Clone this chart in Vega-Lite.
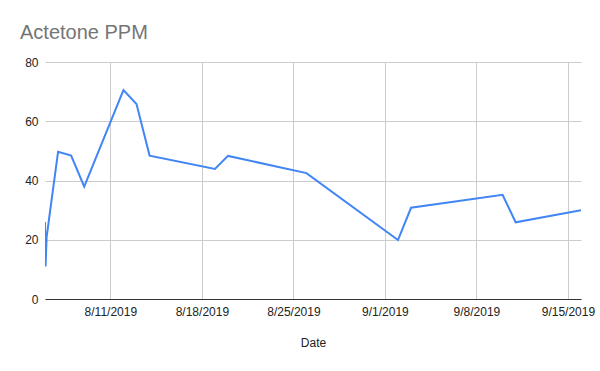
{
  "$schema": "https://vega.github.io/schema/vega-lite/v6.json",
  "autosize": "none",
  "width": 536,
  "height": 237,
  "padding": {"left": 45, "top": 62, "right": 19, "bottom": 72},
  "background": "white",
  "title": {
    "text": "Actetone PPM",
    "anchor": "start",
    "frame": "group",
    "dx": -25,
    "offset": 13,
    "font": "Liberation Sans",
    "fontSize": 20,
    "fontWeight": "normal",
    "color": "#757575"
  },
  "data": {
    "values": [
      {"Date": "2019-08-06T00:00:00", "PPM": 26},
      {"Date": "2019-08-06T01:00:00", "PPM": 11},
      {"Date": "2019-08-06T03:00:00", "PPM": 21},
      {"Date": "2019-08-07T00:00:00", "PPM": 49.7},
      {"Date": "2019-08-08T00:00:00", "PPM": 48.4},
      {"Date": "2019-08-09T00:00:00", "PPM": 37.9},
      {"Date": "2019-08-12T00:00:00", "PPM": 70.5},
      {"Date": "2019-08-13T00:00:00", "PPM": 65.8},
      {"Date": "2019-08-14T00:00:00", "PPM": 48.4},
      {"Date": "2019-08-19T00:00:00", "PPM": 43.9},
      {"Date": "2019-08-20T00:00:00", "PPM": 48.3},
      {"Date": "2019-08-26T00:00:00", "PPM": 42.5},
      {"Date": "2019-09-02T00:00:00", "PPM": 19.9},
      {"Date": "2019-09-03T00:00:00", "PPM": 30.8},
      {"Date": "2019-09-10T00:00:00", "PPM": 35.2},
      {"Date": "2019-09-11T00:00:00", "PPM": 25.9},
      {"Date": "2019-09-16T00:00:00", "PPM": 30.0}
    ]
  },
  "mark": {"type": "line", "color": "#4285F4", "strokeWidth": 2, "clip": true},
  "encoding": {
    "x": {
      "field": "Date",
      "type": "temporal",
      "title": "Date",
      "scale": {
        "domain": [
          {"year": 2019, "month": 8, "date": 6},
          {"year": 2019, "month": 9, "date": 16}
        ],
        "nice": false
      },
      "axis": {
        "format": "%-m/%-d/%Y",
        "tickCount": {"interval": "week", "step": 1},
        "grid": true,
        "gridColor": "#cccccc",
        "ticks": false,
        "domain": true,
        "domainColor": "#333333",
        "domainWidth": 1,
        "labelFont": "Liberation Sans",
        "labelFontSize": 12,
        "labelColor": "#222222",
        "labelPadding": 7,
        "labelFlush": false,
        "labelOverlap": false,
        "titleFont": "Liberation Sans",
        "titleFontSize": 12,
        "titleFontWeight": "normal",
        "titleColor": "#222222",
        "titlePadding": 20
      }
    },
    "y": {
      "field": "PPM",
      "type": "quantitative",
      "title": null,
      "scale": {"domain": [0, 80], "nice": false},
      "axis": {
        "values": [0, 20, 40, 60, 80],
        "grid": true,
        "gridColor": "#cccccc",
        "ticks": false,
        "domain": false,
        "labelFont": "Liberation Sans",
        "labelFontSize": 12,
        "labelColor": "#222222",
        "labelPadding": 7
      }
    }
  },
  "config": {"view": {"stroke": null}}
}
